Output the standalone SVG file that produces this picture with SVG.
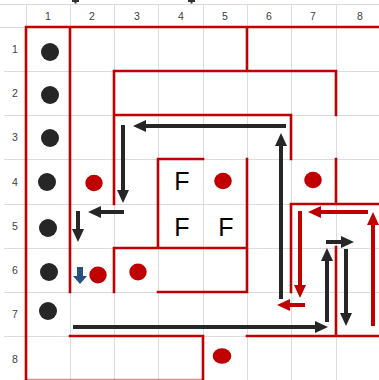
<svg xmlns="http://www.w3.org/2000/svg" width="379" height="380" viewBox="0 0 379 380">
<defs>
<style>
.grid{stroke:#dcdcdc;stroke-width:1;fill:none}
.wall{stroke:#c00000;stroke-width:2.6;fill:none;stroke-linecap:square}
.lbl{font-family:"Liberation Sans",Arial,sans-serif;font-size:10.5px;fill:#404040;text-anchor:middle}
.f{font-family:"Liberation Sans",Arial,sans-serif;font-size:25px;fill:#000;text-anchor:middle}
.bd{fill:#262626}
.rd{fill:#c00000}
.ba{stroke:#262626;stroke-width:4;fill:none}
.ra{stroke:#c00000;stroke-width:4;fill:none}
</style>
<marker id="hb" markerWidth="14" markerHeight="12" refX="1" refY="6" orient="auto" markerUnits="userSpaceOnUse"><path d="M0,0 L13,6 L0,12 z" fill="#262626"/></marker>
<marker id="hr" markerWidth="14" markerHeight="12" refX="1" refY="6" orient="auto" markerUnits="userSpaceOnUse"><path d="M0,0 L13,6 L0,12 z" fill="#c00000"/></marker>
</defs>
<rect width="379" height="380" fill="#fff"/>
<g id="gridlines">
<path class="grid" d="M0,4.5H379 M0,27.5H379 M4,71.5H379 M4,115.5H379 M4,159.5H379 M4,204.5H379 M4,248.5H379 M4,292.5H379 M4,336.5H379"/>
<path class="grid" d="M26.5,4V380 M70.5,4V380 M114.5,4V380 M158.5,4V380 M203.5,4V380 M247.5,4V380 M291.5,4V380 M336.5,4V380"/>
</g>
<g id="fragments">
<rect x="72" y="0" width="7" height="2" fill="#333"/><rect x="74.5" y="0" width="2" height="3.5" fill="#333"/>
<rect x="188" y="0" width="7" height="2" fill="#333"/><rect x="190.5" y="0" width="2" height="3.5" fill="#333"/>
</g>
<g id="col-labels">
<text class="lbl" x="48" y="20">1</text><text class="lbl" x="92" y="20">2</text><text class="lbl" x="137" y="20">3</text><text class="lbl" x="181" y="20">4</text><text class="lbl" x="225" y="20">5</text><text class="lbl" x="269" y="20">6</text><text class="lbl" x="313" y="20">7</text><text class="lbl" x="360" y="20">8</text>
</g>
<g id="row-labels">
<text class="lbl" x="15" y="53">1</text><text class="lbl" x="15" y="97">2</text><text class="lbl" x="15" y="141">3</text><text class="lbl" x="15" y="186">4</text><text class="lbl" x="15" y="230">5</text><text class="lbl" x="15" y="274">6</text><text class="lbl" x="15" y="318">7</text><text class="lbl" x="15" y="363">8</text>
</g>
<g id="walls">
<path class="wall" d="M26,27H379 M26,27V380 M70,27V292 M247,27V71 M114,204V71H336V115 M114,115H291V159 M158,248V159H203 M247,159V292H158 M114,292V248H247 M336,159V204 M291,292V204H379 M336,247V336 M70,336H203V380 M247,336H379"/>
<path d="M26,379.5H203" stroke="#c00000" stroke-opacity="0.45" stroke-width="1.5"/>
</g>
<g id="black-dots">
<circle class="bd" cx="50" cy="52" r="9"/><circle class="bd" cx="50" cy="95" r="9"/><circle class="bd" cx="50" cy="138" r="9"/><circle class="bd" cx="47" cy="182" r="9"/><circle class="bd" cx="48" cy="228" r="9"/><circle class="bd" cx="49" cy="272" r="9"/><circle class="bd" cx="48" cy="311" r="9"/>
</g>
<g id="red-dots">
<ellipse class="rd" cx="94" cy="183" rx="8.7" ry="8.2"/><ellipse class="rd" cx="223" cy="181" rx="8.8" ry="8.3"/><ellipse class="rd" cx="313" cy="180" rx="8.8" ry="8.3"/><ellipse class="rd" cx="98" cy="275" rx="8.7" ry="8.4"/><ellipse class="rd" cx="138" cy="272" rx="8.7" ry="8.4"/><ellipse class="rd" cx="222" cy="356" rx="9.3" ry="7.8"/>
</g>
<g id="f-labels">
<text class="f" x="182" y="190">F</text><text class="f" x="182" y="236">F</text><text class="f" x="226" y="236">F</text>
</g>
<g id="blue-arrow">
<path d="M77,267H83V276H87L80,284L73,276H77z" fill="#24527f"/>
</g>
<g id="connectors">
<path class="ba" marker-end="url(#hb)" d="M286,126H145"/>
<path class="ba" marker-end="url(#hb)" d="M281,299V145"/>
<path class="ba" marker-end="url(#hb)" d="M123,125V191"/>
<path class="ba" marker-end="url(#hb)" d="M124,212H100"/>
<path class="ba" marker-end="url(#hb)" d="M78,211V230"/>
<path class="ba" marker-end="url(#hb)" d="M73,327H316"/>
<path class="ba" marker-end="url(#hb)" d="M327,322V260"/>
<path class="ba" marker-end="url(#hb)" d="M326,242H342"/>
<path class="ba" marker-end="url(#hb)" d="M346,249V314"/>
<path class="ra" marker-end="url(#hr)" d="M368,212H320"/>
<path class="ra" marker-end="url(#hr)" d="M300,211V286"/>
<path class="ra" marker-end="url(#hr)" d="M305,305H289"/>
<path class="ra" marker-end="url(#hr)" d="M373,326V224"/>
</g>
</svg>
